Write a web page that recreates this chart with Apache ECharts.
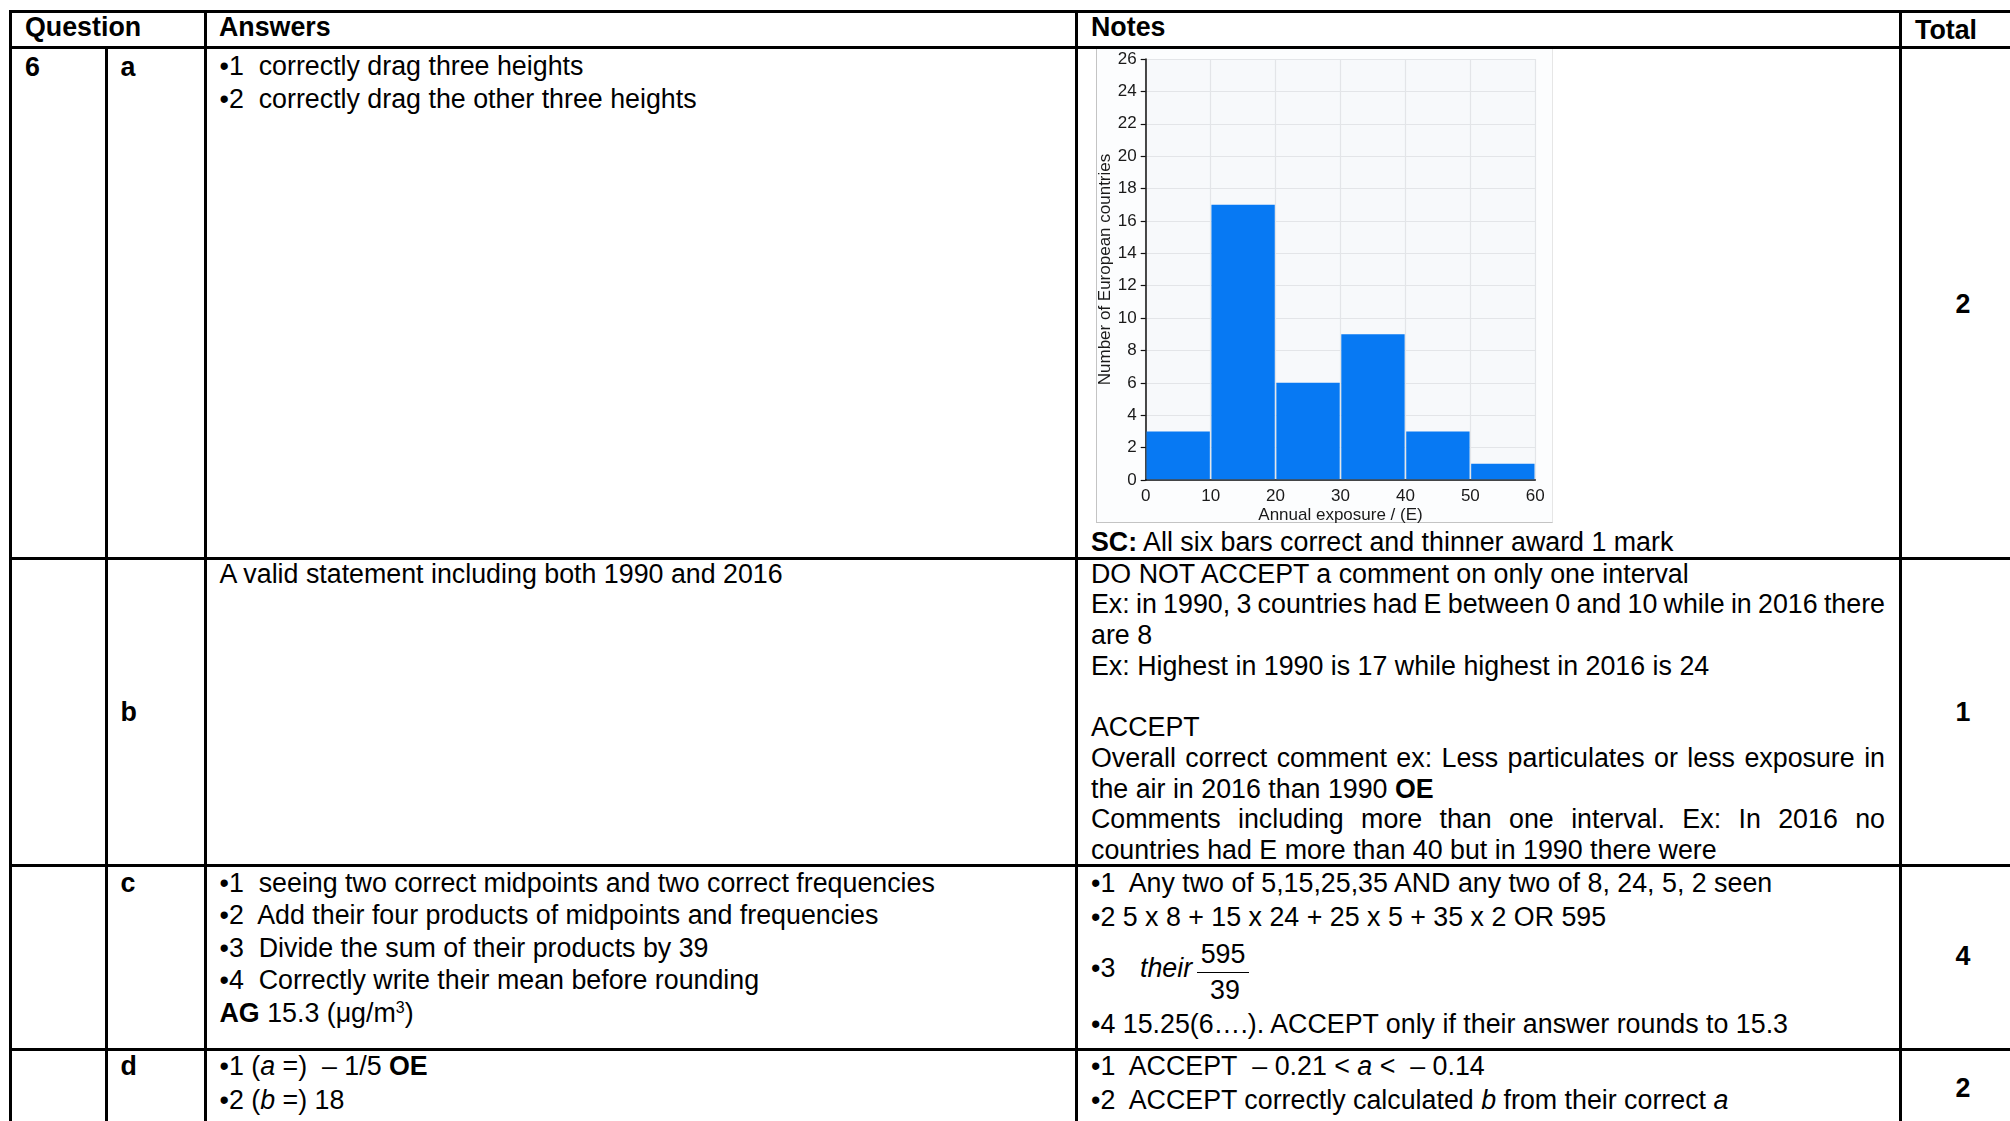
<!DOCTYPE html>
<html>
<head>
<meta charset="utf-8">
<script src="https://cdn.jsdelivr.net/npm/echarts/dist/echarts.min.js"></script>
<style>
  html, body { margin:0; padding:0; }
  body { width:2010px; height:1121px; overflow:hidden; background:#fff; position:relative;
         font-family:"Liberation Sans", Arial, Helvetica, sans-serif; font-size:26.8px; color:#000; }
  .h { position:absolute; height:3px; background:#000; }
  .v { position:absolute; width:3px; background:#000; }
  .t { position:absolute; white-space:nowrap; line-height:34px; }
  .blk { position:absolute; white-space:nowrap; }
  .blk div { white-space:nowrap; }
  .j { text-align:justify; text-align-last:justify; width:794px; }
  .c { text-align:center; }
  sup { font-size:16px; line-height:0; vertical-align:9px; }
  #frame { position:absolute; left:1096px; top:49px; width:455px; height:473px;
           border-left:1.5px solid #c4c4c4; border-bottom:1.5px solid #c4c4c4; border-right:1px solid #e6e6e6;
           background:#fcfdfe; }
  #chart { position:absolute; left:1097px; top:49px; width:455px; height:474px; }
</style>
</head>
<body>
<!-- table rules -->
<div class="h" style="left:8.5px; top:9.5px; width:2020px;"></div>
<div class="h" style="left:8.5px; top:45.5px; width:2020px;"></div>
<div class="h" style="left:8.5px; top:556.5px; width:2020px;"></div>
<div class="h" style="left:8.5px; top:863.5px; width:2020px;"></div>
<div class="h" style="left:8.5px; top:1047.5px; width:2020px;"></div>
<div class="v" style="left:8.5px; top:9.5px; height:1120px;"></div>
<div class="v" style="left:104.5px; top:45.5px; height:1100px;"></div>
<div class="v" style="left:203.5px; top:9.5px; height:1120px;"></div>
<div class="v" style="left:1074.5px; top:9.5px; height:1120px;"></div>
<div class="v" style="left:1898.5px; top:9.5px; height:1120px;"></div>

<!-- header -->
<div class="t" style="left:25px; top:10px;"><b>Question</b></div>
<div class="t" style="left:219px; top:10px;"><b>Answers</b></div>
<div class="t" style="left:1091px; top:10px;"><b>Notes</b></div>
<div class="t" style="left:1915px; top:13px;"><b>Total</b></div>

<!-- row a -->
<div class="t" style="left:25px; top:50px;"><b>6</b></div>
<div class="t" style="left:120.5px; top:50px;"><b>a</b></div>
<div class="blk" style="left:219.5px; top:50px; line-height:33.4px;">
  <div>•1&nbsp; correctly drag three heights</div>
  <div>•2&nbsp; correctly drag the other three heights</div>
</div>
<div class="t" style="left:1091px; top:525px;"><b>SC:</b> All six bars correct and thinner award 1 mark</div>
<div class="t c" style="left:1900px; width:126px; top:287px;"><b>2</b></div>

<!-- row b -->
<div class="t" style="left:120.5px; top:694.5px;"><b>b</b></div>
<div class="blk" style="left:219.5px; top:558.6px; line-height:30.7px;">
  <div>A valid statement including both 1990 and 2016</div>
</div>
<div class="blk" style="left:1091px; top:558.6px; line-height:30.7px;">
  <div>DO NOT ACCEPT a comment on only one interval</div>
  <div class="j" style="word-spacing:-1.7px;">Ex: in 1990, 3 countries had E between 0 and 10 while in 2016 there</div>
  <div>are 8</div>
  <div>Ex: Highest in 1990 is 17 while highest in 2016 is 24</div>
  <div>&nbsp;</div>
  <div>ACCEPT</div>
  <div class="j">Overall correct comment ex: Less particulates or less exposure in</div>
  <div>the air in 2016 than 1990 <b>OE</b></div>
  <div class="j">Comments including more than one interval. Ex: In 2016 no</div>
  <div>countries had E more than 40 but in 1990 there were</div>
</div>
<div class="t c" style="left:1900px; width:126px; top:694.5px;"><b>1</b></div>

<!-- row c -->
<div class="t" style="left:120.5px; top:866px;"><b>c</b></div>
<div class="blk" style="left:219.5px; top:866.7px; line-height:32.5px;">
  <div>•1&nbsp; seeing two correct midpoints and two correct frequencies</div>
  <div>•2&nbsp; Add their four products of midpoints and frequencies</div>
  <div>•3&nbsp; Divide the sum of their products by 39</div>
  <div>•4&nbsp; Correctly write their mean before rounding</div>
  <div><b>AG</b> 15.3 (μg/m<sup>3</sup>)</div>
</div>
<div class="t" style="left:1091px; top:866px;">•1&nbsp; Any two of 5,15,25,35 AND any two of 8, 24, 5, 2 seen</div>
<div class="t" style="left:1091px; top:900px;">•2 5 x 8 + 15 x 24 + 25 x 5 + 35 x 2 OR 595</div>
<div class="t" style="left:1091px; top:951px;">•3</div>
<div class="t" style="left:1140px; top:951px;"><i>their</i></div>
<div class="t c" style="left:1197px; width:52px; top:937px;">595</div>
<div style="position:absolute; left:1197px; top:971.5px; width:52px; height:1.5px; background:#000;"></div>
<div class="t c" style="left:1199px; width:52px; top:973px;">39</div>
<div class="t" style="left:1091px; top:1007px;">•4 15.25(6….). ACCEPT only if their answer rounds to 15.3</div>
<div class="t c" style="left:1900px; width:126px; top:939px;"><b>4</b></div>

<!-- row d -->
<div class="t" style="left:120.5px; top:1049px;"><b>d</b></div>
<div class="blk" style="left:219.5px; top:1049px; line-height:34px;">
  <div>•1 (<i>a</i> =)&nbsp; – 1/5 <b>OE</b></div>
  <div>•2 (<i>b</i> =) 18</div>
</div>
<div class="blk" style="left:1091px; top:1049px; line-height:34px;">
  <div>•1&nbsp; ACCEPT&nbsp; – 0.21 &lt; <i>a</i> &lt;&nbsp; – 0.14</div>
  <div>•2&nbsp; ACCEPT correctly calculated <i>b</i> from their correct <i>a</i></div>
</div>
<div class="t c" style="left:1900px; width:126px; top:1071px;"><b>2</b></div>

<!-- histogram -->
<div id="frame"></div>
<div id="chart"></div>

<script>
// ---- data ----
const binStarts = [0, 10, 20, 30, 40, 50];
const binEnds   = [10, 20, 30, 40, 50, 60];
const counts    = [3, 17, 6, 9, 3, 1];
const xTitle = 'Annual exposure / (E)';
const yTitle = 'Number of European countries';

const FONT = '"Liberation Sans", Arial, Helvetica, sans-serif';
const BAR = '#0779f3';

const chart = echarts.init(document.getElementById('chart'), null, {renderer: 'canvas'});
chart.setOption({
  animation: false,
  grid: { left: 48.7, right: 16.7, top: 10, bottom: 43, show: true,
          backgroundColor: '#f7f9fb', borderWidth: 0, containLabel: false, outerBoundsMode: 'none' },
  xAxis: {
    type: 'value', min: 0, max: 60, interval: 10,
    name: xTitle, nameLocation: 'middle', nameGap: 27, nameMoveOverlap: false,
    nameTextStyle: { color: '#1a1a1a', fontSize: 17, fontFamily: FONT },
    axisLine: { show: true, onZero: false, lineStyle: { color: '#111', width: 1.5 } },
    axisTick: { show: false },
    axisLabel: { color: '#1a1a1a', fontSize: 17, margin: 8, fontFamily: FONT },
    splitLine: { show: true, lineStyle: { color: '#e3e5e8', width: 1.2 } }
  },
  yAxis: {
    type: 'value', min: 0, max: 26, interval: 2,
    name: yTitle, nameLocation: 'middle', nameGap: 32, nameRotate: 90, nameMoveOverlap: false,
    nameTextStyle: { color: '#1a1a1a', fontSize: 17, fontFamily: FONT },
    axisLine: { show: true, onZero: false, lineStyle: { color: '#111', width: 1.5 } },
    axisTick: { show: true, length: 5, lineStyle: { color: '#111', width: 1.2 } },
    axisLabel: { color: '#1a1a1a', fontSize: 17, margin: 9, fontFamily: FONT },
    splitLine: { show: true, lineStyle: { color: '#e3e5e8', width: 1.2 } }
  },
  series: [{
    type: 'custom',
    data: binStarts.map((s, i) => [s, binEnds[i], counts[i]]),
    encode: { x: [0, 1], y: 2 },
    renderItem: function (params, api) {
      const p0 = api.coord([api.value(0), 0]);
      const p1 = api.coord([api.value(1), api.value(2)]);
      return {
        type: 'rect',
        shape: { x: p0[0] + 0.8, y: p1[1], width: p1[0] - p0[0] - 1.6, height: p0[1] - p1[1] - 0.8 },
        style: { fill: BAR }
      };
    }
  }]
});
</script>
</body>
</html>
